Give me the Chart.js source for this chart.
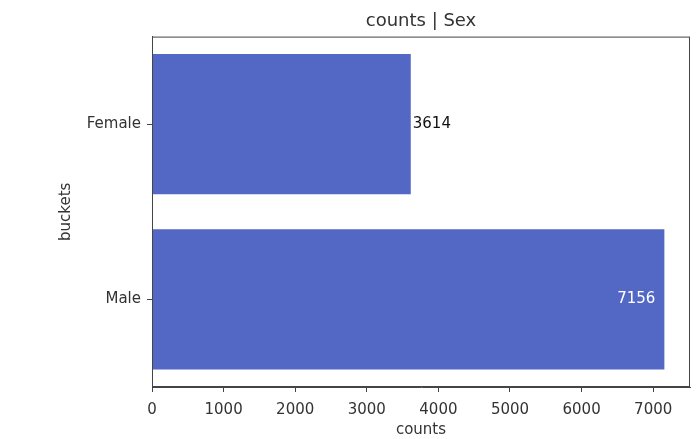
<!DOCTYPE html>
<html>
<head>
<meta charset="utf-8">
<script src="https://cdn.jsdelivr.net/npm/chart.js@4/dist/chart.umd.min.js"></script>
<style>
  html, body { margin: 0; padding: 0; background: #fff; }
  #wrap { width: 699px; height: 439px; }
</style>
</head>
<body>
<div id="wrap"><canvas id="sex-chart" width="699" height="439"></canvas></div>
<script>
// chart values
const buckets = ['Female', 'Male'];
const counts = [3614, 7156];
const xTicks = [0, 1000, 2000, 3000, 4000, 5000, 6000, 7000];
const xMax = 7514;

const barColor = '#5367c4';
const textColor = '#333333';
const fontFam = '"DejaVu Sans"';

// puts the count next to / inside each bar
const barLabels = {
    id: 'barLabels',
    afterDatasetsDraw(chart) {
        const ctx = chart.ctx;
        const meta = chart.getDatasetMeta(0);
        ctx.save();
        ctx.font = '15px ' + fontFam;
        ctx.textBaseline = 'middle';
        meta.data.forEach((bar, i) => {
            const v = counts[i];
            if (v > xMax * 0.9) {
                ctx.fillStyle = '#ffffff';
                ctx.textAlign = 'right';
                ctx.fillText(String(v), bar.x - 9, bar.y);
            } else {
                ctx.fillStyle = '#111111';
                ctx.textAlign = 'left';
                ctx.fillText(String(v), bar.x + 2, bar.y);
            }
        });
        ctx.restore();
    }
};

// box round the plot area, like matplotlib spines
const frame = {
    id: 'frame',
    afterDraw(chart) {
        const a = chart.chartArea;
        const ctx = chart.ctx;
        ctx.save();
        ctx.strokeStyle = '#444444';
        ctx.lineWidth = 1;
        ctx.strokeRect(a.left + 0.5, a.top + 0.5, a.right - a.left - 1, a.bottom - a.top - 1);
        ctx.restore();
    }
};

const ctx = document.getElementById('sex-chart').getContext('2d');
const sexChart = new Chart(ctx, {
    type: 'bar',
    data: {
        labels: buckets,
        datasets: [{
            data: counts,
            backgroundColor: barColor,
            borderWidth: 0,
            categoryPercentage: 0.8,
            barPercentage: 1.0
        }]
    },
    options: {
        indexAxis: 'y',
        responsive: false,
        animation: false,
        layout: { padding: { top: 8, right: 9, left: 57, bottom: 0 } },
        plugins: {
            legend: { display: false },
            tooltip: { enabled: false },
            title: {
                display: true,
                text: 'counts | Sex',
                fullSize: false,
                color: textColor,
                font: { family: 'DejaVu Sans', size: 18, weight: 'normal' },
                padding: { top: 3, bottom: 4 }
            }
        },
        scales: {
            x: {
                min: 0,
                max: xMax,
                afterBuildTicks: s => { s.ticks = xTicks.map(v => ({ value: v })); },
                afterFit: s => { s.height = 52; },
                grid: { drawOnChartArea: false, drawTicks: true, tickLength: 5, color: '#444444' },
                border: { display: true, color: '#444444' },
                ticks: {
                    color: textColor,
                    font: { family: 'DejaVu Sans', size: 15 },
                    padding: 9,
                    maxRotation: 0,
                    callback: v => String(v)
                },
                title: {
                    display: true,
                    text: 'counts',
                    color: textColor,
                    font: { family: 'DejaVu Sans', size: 15 },
                    padding: { top: 0, bottom: 0 }
                }
            },
            y: {
                afterFit: s => { s.width = 95; },
                grid: { offset: false, drawOnChartArea: false, drawTicks: true, tickLength: 5, color: '#444444' },
                border: { display: true, color: '#444444' },
                ticks: { color: textColor, font: { family: 'DejaVu Sans', size: 15 }, padding: 6 },
                title: {
                    display: true,
                    text: 'buckets',
                    color: textColor,
                    font: { family: 'DejaVu Sans', size: 15 },
                    padding: 0
                }
            }
        }
    },
    plugins: [barLabels, frame]
});
</script>
</body>
</html>
